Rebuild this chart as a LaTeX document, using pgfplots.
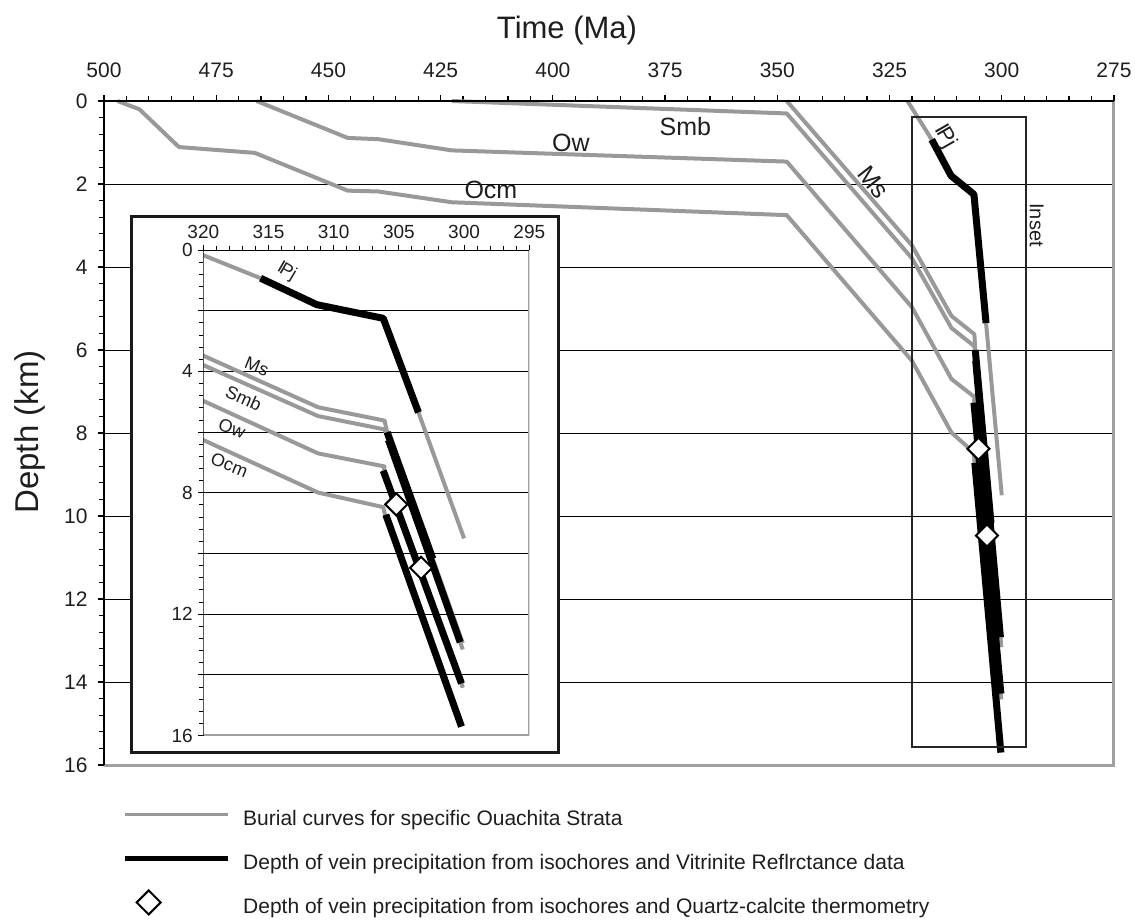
\documentclass[border=0pt]{standalone}
\usepackage{fontspec}
\setmainfont{Liberation Sans}
\usepackage{pgfplots}
\usepackage{pgfplotstable}
\pgfplotsset{compat=1.18}
\definecolor{burial}{RGB}{153,153,153}
\definecolor{framegray}{RGB}{160,160,160}
\definecolor{txt}{RGB}{30,30,30}

\pgfplotstableread{
ma d
497 0
492.1 0.2
483.3 1.11
466.4 1.25
445.7 2.16
438.9 2.18
422.5 2.44
347.9 2.75
320 6.26
311.2 7.99
306.2 8.47
306.0 8.85
}\ocmg
\pgfplotstableread{
ma d
306.0 8.72
300.2 15.70
}\ocmb
\pgfplotstableread{
ma d
466 0
445.7 0.89
438.9 0.92
422.5 1.19
347.9 1.46
320 4.97
311.2 6.70
306.1 7.13
306.2 7.35
300.2 14.28
300.1 14.42
}\owg
\pgfplotstableread{
ma d
306.2 7.27
300.2 14.28
}\owb
\pgfplotstableread{
ma d
422.5 0
347.9 0.30
320 3.79
311.2 5.47
306.1 5.91
305.8 6.26
300.1 13.16
}\smbg
\pgfplotstableread{
ma d
305.8 6.26
300.3 12.92
}\smbb
\pgfplotstableread{
ma d
347.9 0
320 3.48
311.2 5.18
306.1 5.62
305.9 6.0
302.4 10.17
300.1 12.95
}\msg
\pgfplotstableread{
ma d
305.9 6.0
302.4 10.17
}\msb
\pgfplotstableread{
ma d
321 0
315.6 0.93
311.3 1.8
306.2 2.25
303.5 5.35
300.0 9.5
}\pjg
\pgfplotstableread{
ma d
315.6 0.93
311.3 1.8
306.2 2.25
303.5 5.35
}\pjb
\pgfplotstableread{
ma d
305.2 8.38
303.3 10.47
}\qc

\pgfplotsset{
  gline/.style={burial, line width=4pt, line join=round, forget plot},
  bline/.style={black, line width=7pt, line join=round, forget plot},
  dmark/.style={only marks, mark=square*, mark size=7.8pt, mark options={rotate=45, fill=white, draw=black, line width=2pt}, forget plot},
}
\newcommand{\drawseries}{%
  \addplot[gline] table[x=ma,y=d] {\ocmg};
  \addplot[gline] table[x=ma,y=d] {\owg};
  \addplot[gline] table[x=ma,y=d] {\smbg};
  \addplot[gline] table[x=ma,y=d] {\msg};
  \addplot[gline] table[x=ma,y=d] {\pjg};
  \addplot[bline] table[x=ma,y=d] {\ocmb};
  \addplot[bline] table[x=ma,y=d] {\owb};
  \addplot[bline] table[x=ma,y=d] {\smbb};
  \addplot[bline] table[x=ma,y=d] {\msb};
  \addplot[bline] table[x=ma,y=d] {\pjb};
  \addplot[dmark] table[x=ma,y=d] {\qc};
}
\newcommand{\lblfont}{\fontsize{25}{28}\selectfont}
\newcommand{\ilblfont}{\fontsize{18}{21}\selectfont}

\begin{document}
\begin{tikzpicture}[x=1pt,y=1pt]
\path[use as bounding box] (0,0) rectangle (1135,922);

% main axis
\begin{axis}[
  at={(104pt,157pt)}, anchor=south west,
  width=1010pt, height=664pt, scale only axis,
  xmin=275, xmax=500, ymin=0, ymax=16,
  x dir=reverse, y dir=reverse,
  axis line style={draw=none},
  xtick={275,300,...,500}, minor x tick num=4,
  ytick={0,2,...,16}, minor y tick num=4,
  xtick pos=right, xticklabel pos=right,
  ytick pos=left, yticklabel pos=left,
  tick align=outside,
  major tick length=6pt, minor tick length=5pt,
  tick style={black, line width=1.2pt},
  ymajorgrids, major grid style={black, line width=1pt},
  ticklabel style={font=\fontsize{21}{24}\selectfont, text=txt},
  xticklabel style={yshift=14pt},
  yticklabel style={xshift=-7pt},
  /pgf/number format/assume math mode=true,
  clip=false,
  legend cell align=left,
  legend style={at={(axis description cs:0.0178,-0.0685)}, anchor=north west,
    draw=none, fill=none, inner sep=0pt, row sep=24.5pt,
    font=\fontsize{21}{24}\selectfont, text=txt,
    nodes={inner sep=0pt, text height=15pt, text depth=4.5pt},
    /tikz/every odd column/.append style={column sep=13pt}},
]
\addlegendimage{legend image code/.code={\draw[burial, line width=3pt] (0pt,6pt) -- (103pt,6pt);}}
\addlegendentry{Burial curves for specific Ouachita Strata}
\addlegendimage{legend image code/.code={\draw[black, line width=5pt] (0pt,6pt) -- (103pt,6pt);}}
\addlegendentry{Depth of vein precipitation from isochores and Vitrinite Reflrctance data}
\addlegendimage{legend image code/.code={\path[draw=none] (0pt,6pt) -- (103pt,6pt); \draw[overlay, black, line width=2pt, fill=white] (24pt,-6pt) -- (36pt,6pt) -- (24pt,18pt) -- (12pt,6pt) -- cycle;}}
\addlegendentry{Depth of vein precipitation from isochores and Quartz-calcite thermometry}

\drawseries

\draw[framegray, line width=3pt] (axis cs:500,16) -- (axis cs:275,16) -- (axis cs:275,0);
\draw[black, line width=1.5pt] (axis cs:500,16) -- (axis cs:500,0) -- (axis cs:275,0);
\draw[black!85, line width=2pt] (axis cs:320,0.39) rectangle (axis cs:294.7,15.56);

\node[font=\lblfont, text=txt] at (axis cs:370.5,0.62) {Smb};
\node[font=\lblfont, text=txt] at (axis cs:396,1.01) {Ow};
\node[font=\lblfont, text=txt] at (axis cs:413.8,2.14) {Ocm};
\node[font=\lblfont, text=txt, rotate=-52] at (axis cs:328.6,1.95) {Ms};
\node[font=\fontsize{22}{25}\selectfont, text=txt, rotate=-60] at (axis cs:312.6,0.86) {I\kern-0.12emPj};
\node[font=\fontsize{20}{24}\selectfont, text=txt, rotate=-90] at (axis cs:292.2,2.99) {Inset};
\end{axis}

\node[font=\fontsize{31}{35}\selectfont, text=txt] at (567,892) {Time (Ma)};
\node[font=\fontsize{33}{37}\selectfont, text=txt, rotate=90] at (30,490) {Depth (km)};

% inset
\draw[fill=white, draw=black!90, line width=3pt] (131.7,169.7) rectangle (558.3,705.3);
\begin{axis}[
  at={(203.3pt,186.3pt)}, anchor=south west,
  width=326pt, height=485.7pt, scale only axis,
  xmin=295, xmax=320, ymin=0, ymax=16,
  x dir=reverse, y dir=reverse,
  axis line style={draw=none},
  xtick={295,300,...,320}, minor x tick num=4,
  ytick={0,2,...,16}, yticklabels={0,,4,,8,,12,,16}, minor y tick num=4,
  xtick pos=right, xticklabel pos=right,
  ytick pos=left, yticklabel pos=left,
  tick align=outside,
  major tick length=5pt, minor tick length=4pt,
  tick style={black, line width=1pt},
  ymajorgrids, major grid style={black, line width=1pt},
  ticklabel style={font=\fontsize{19}{22}\selectfont, text=txt},
  xticklabel style={inner sep=1pt, yshift=5pt},
  yticklabel style={xshift=-2pt},
  /pgf/number format/assume math mode=true,
]
\drawseries
\draw[framegray, line width=3pt] (axis cs:320,16) -- (axis cs:295,16) -- (axis cs:295,0);
\draw[black, line width=1.3pt] (axis cs:320,16) -- (axis cs:320,0) -- (axis cs:295,0);
\node[font=\ilblfont, text=txt, rotate=-30] at (axis cs:313.6,0.71) {I\kern-0.12emPj};
\node[font=\ilblfont, text=txt, rotate=-22] at (axis cs:315.9,3.84) {Ms};
\node[font=\ilblfont, text=txt, rotate=-24] at (axis cs:316.9,4.88) {Smb};
\node[font=\ilblfont, text=txt, rotate=-20] at (axis cs:317.8,5.87) {Ow};
\node[font=\ilblfont, text=txt, rotate=-22] at (axis cs:318.0,7.08) {Ocm};
\end{axis}
\end{tikzpicture}
\end{document}
